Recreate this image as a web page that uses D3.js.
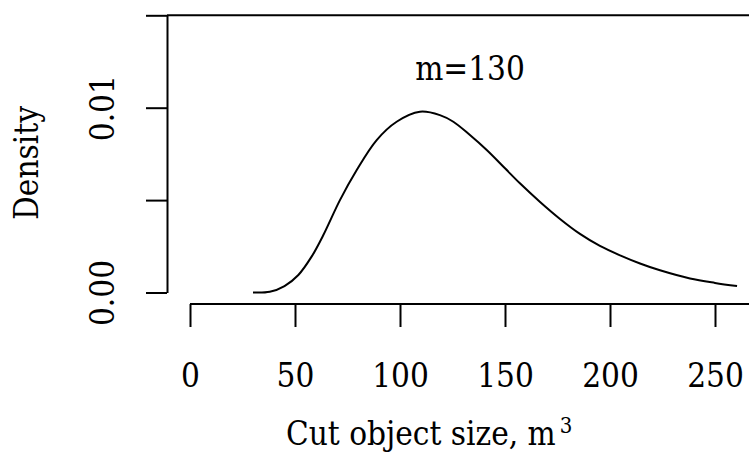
<!DOCTYPE html>
<html>
<head>
<meta charset="utf-8">
<script src="https://cdn.jsdelivr.net/npm/d3@7"></script>
<style>
  body { margin: 0; background: #fff; }
</style>
</head>
<body>
<div id="chart"></div>
<script>
// density curve
const sizes = [30, 38, 45, 51.6, 57.9, 63.5, 71.4, 79.4, 88.9, 98.4, 109.5, 119, 125.4, 133.3, 141.3, 150, 157.1, 166.7, 176.2, 185.7, 195.2, 204.8, 214.3, 223.8, 238.1, 250, 260.5];
const densities = [0, 0.00004, 0.00035, 0.00095, 0.00194, 0.00311, 0.005, 0.00663, 0.00825, 0.00924, 0.00978, 0.0096, 0.00924, 0.00852, 0.00771, 0.00672, 0.00591, 0.0049, 0.00398, 0.00317, 0.00252, 0.00201, 0.00157, 0.0012, 0.00076, 0.00052, 0.00035];
const x_ticks = [0, 50, 100, 150, 200, 250];
const y_ticks = [0, 0.005, 0.01, 0.015];
const y_labels = {0: "0.00", 0.01: "0.01"};
const annotation = "m=130";

const W = 749, H = 452;
// Liberation Serif is not picked up here, DejaVu Serif is
const FONT = '"DejaVu Serif Condensed", "DejaVu Serif", serif';
const FS = 33;

const svg = d3.select("#chart").append("svg")
  .attr("width", W)
  .attr("height", H);

// scales: 0..250 sits on 190..715, density 0..0.015 on 292.5..15.3
const x = d3.scaleLinear().domain([0, 250]).range([190, 715]);
const y = d3.scaleLinear().domain([0, 0.015]).range([292.5, 15.3]);

// x axis; its line runs off the right edge like the original
const xAxis = svg.append("g")
  .attr("transform", "translate(0,304)")
  .call(d3.axisBottom(x).tickValues(x_ticks).tickSize(23).tickSizeOuter(0));
xAxis.select(".domain").remove();
xAxis.append("line")
  .attr("x1", x(0)).attr("x2", W)
  .attr("stroke", "#000").attr("stroke-width", 2);
xAxis.selectAll(".tick line").attr("stroke-width", 2);
xAxis.selectAll(".tick text")
  .attr("y", 83).attr("dy", 0)
  .attr("font-size", FS)
  .attr("font-family", FONT);

// y axis
const yAxis = svg.append("g")
  .attr("transform", "translate(167,0)")
  .call(d3.axisLeft(y).tickValues(y_ticks).tickSize(21).tickSizeOuter(0)
    .tickFormat(d => y_labels[d] || ""));
yAxis.select(".domain").attr("stroke-width", 2);
yAxis.selectAll(".tick line").attr("stroke-width", 2);
yAxis.selectAll(".tick text")
  .attr("transform", "rotate(-90)")
  .attr("x", 0).attr("y", -53).attr("dy", 0)
  .attr("text-anchor", "middle")
  .attr("font-size", FS)
  .attr("font-family", FONT);

// horizontal line at the top of the axis
svg.append("line")
  .attr("x1", 167).attr("x2", W)
  .attr("y1", y(0.015)).attr("y2", y(0.015))
  .attr("stroke", "#000").attr("stroke-width", 2);

// density curve
const line = d3.line()
  .x((d, i) => x(sizes[i]))
  .y(d => y(d))
  .curve(d3.curveCatmullRom);
svg.append("path")
  .datum(densities)
  .attr("d", line)
  .attr("fill", "none")
  .attr("stroke", "#000")
  .attr("stroke-width", 2);

// annotation
svg.append("text")
  .attr("x", 470).attr("y", 80)
  .attr("text-anchor", "middle")
  .attr("font-size", FS)
  .attr("font-family", FONT)
  .text(annotation);

// axis titles
const xt = svg.append("text")
  .attr("x", 286).attr("y", 445)
  .attr("font-size", FS)
  .attr("font-family", FONT);
xt.append("tspan").text("Cut object size, m");
xt.append("tspan").attr("dx", 4).attr("dy", -12).attr("font-size", 22).text("3");

svg.append("text")
  .attr("transform", "translate(38,163) rotate(-90)")
  .attr("text-anchor", "middle")
  .attr("font-size", FS)
  .attr("font-family", FONT)
  .text("Density");
</script>
</body>
</html>
